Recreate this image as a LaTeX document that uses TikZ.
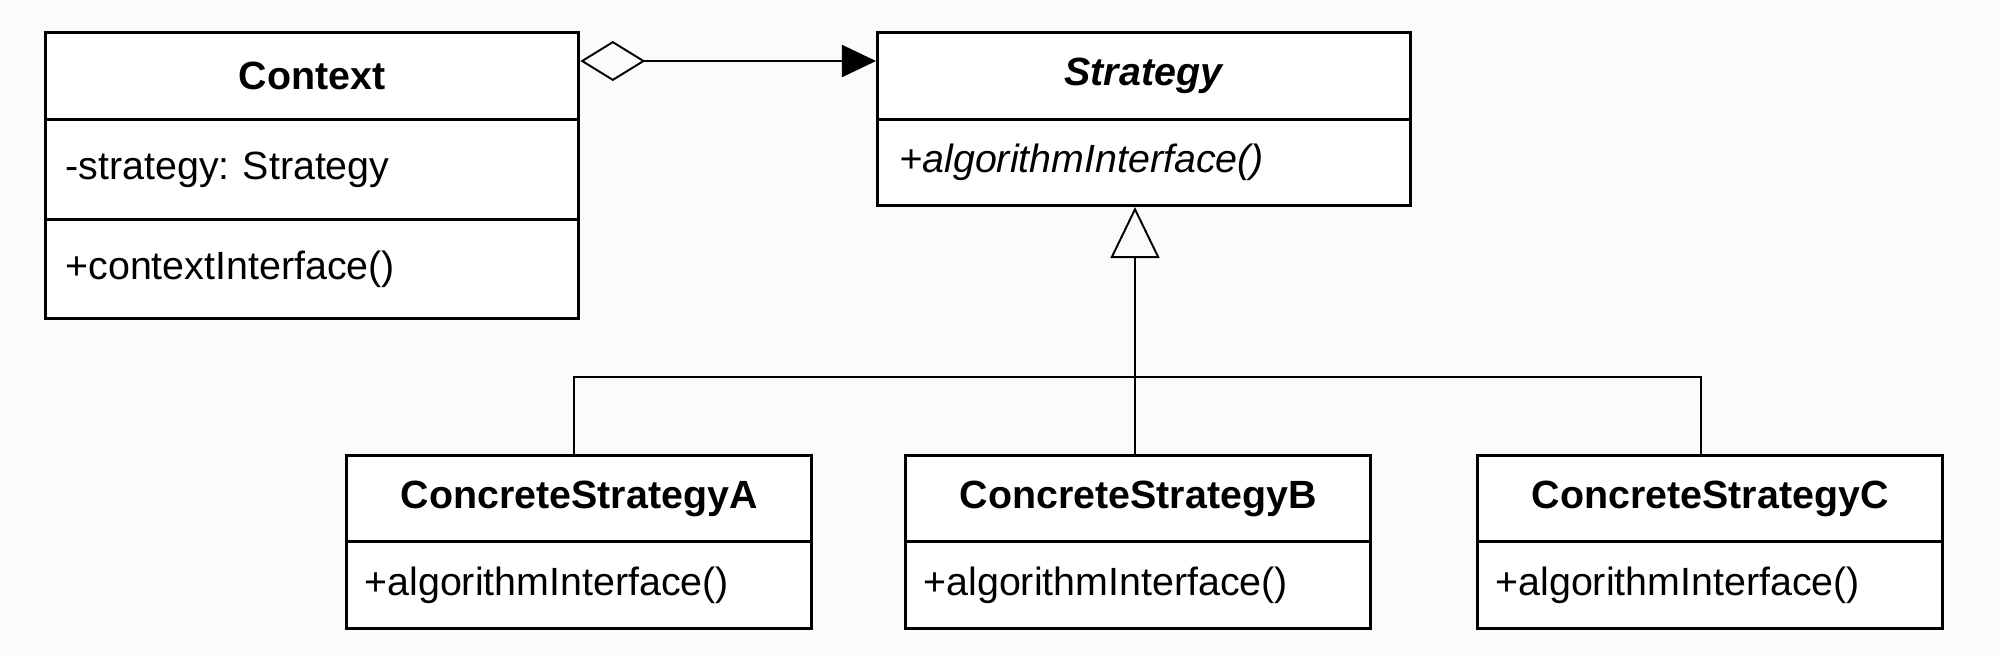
\documentclass[tikz,border=0pt]{standalone}
\usepackage{fontspec}
\setmainfont{Liberation Sans}
\usepackage{tikz}
\usetikzlibrary{arrows.meta}
\frenchspacing

\begin{document}
\begin{tikzpicture}[x=0.01cm,y=-0.01cm]
\tikzset{classname/.style = {draw,line width=0.85pt,fill=white,anchor=north west,align=center,inner xsep=0pt,font=\fontsize{11.2}{13.4}\selectfont}}
\tikzset{member/.style = {draw,line width=0.85pt,fill=white,anchor=north west,align=left,font=\fontsize{11.2}{13.4}\selectfont}}
\tikzset{assoc/.style = {line width=0.55pt,{Diamond[open,length=6.5mm,width=4mm,line width=0.55pt]}-{Triangle[length=3.4mm,width=3.2mm]}}}
\tikzset{inherit/.style = {line width=0.55pt,-{Triangle[open,length=5.1mm,width=4.9mm,line width=0.55pt]}}}
\useasboundingbox[fill=black!1.5] (0,0) rectangle (2000,655);

% context
\node[classname,text width=5.33cm,minimum height=0.87cm] (ctx) at (44,31) {\textbf{Context}};
\node[member,inner xsep=2mm,text width=4.93cm,minimum height=1cm] (ctxattr) at (44,118) {-strategy: Strategy};
\node[member,inner xsep=2mm,text width=4.93cm,minimum height=0.99cm] (ctxop) at (44,218) {+contextInterface()};

% strategy
\node[classname,text width=5.33cm,minimum height=0.87cm] (strat) at (876,31) {\textbf{\textit{Strategy}}};
\node[member,inner xsep=2.2mm,text width=4.89cm,minimum height=0.86cm] (stratop) at (876,118) {\textit{+algorithmInterface()}};

% concrete strategies
\node[classname,text width=4.65cm,minimum height=0.86cm] (csa) at (345,454) {\textbf{ConcreteStrategyA}};
\node[member,inner xsep=1.8mm,text width=4.29cm,minimum height=0.87cm] (csaop) at (345,540) {+algorithmInterface()};
\node[classname,text width=4.65cm,minimum height=0.86cm] (csb) at (904,454) {\textbf{ConcreteStrategyB}};
\node[member,inner xsep=1.8mm,text width=4.29cm,minimum height=0.87cm] (csbop) at (904,540) {+algorithmInterface()};
\node[classname,text width=4.65cm,minimum height=0.86cm] (csc) at (1476,454) {\textbf{ConcreteStrategyC}};
\node[member,inner xsep=1.8mm,text width=4.29cm,minimum height=0.87cm] (cscop) at (1476,540) {+algorithmInterface()};

\coordinate (join) at (1135,377);

\draw[assoc] ([yshift=-3mm]ctx.north east) -- ([yshift=-3mm]strat.north west);
\draw[line width=0.55pt] ([xshift=-0.5mm]csa.north) |- (join) -| ([xshift=-0.9mm]csc.north);
\draw[line width=0.55pt] (join) -- (join |- csb.north);
\draw[inherit] (join) -- (join |- stratop.south);
\end{tikzpicture}
\end{document}
